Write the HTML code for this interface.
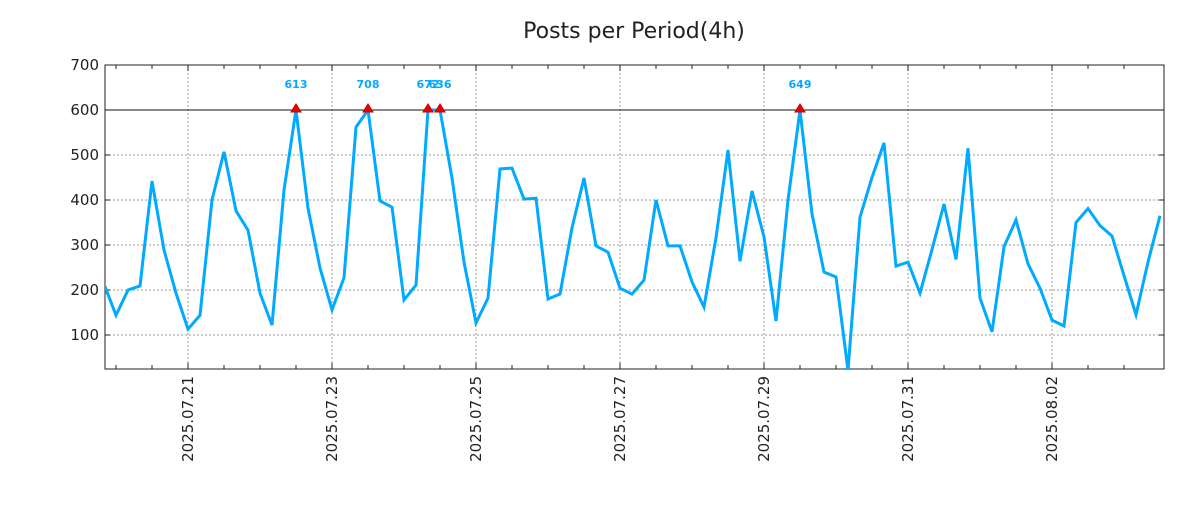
<!DOCTYPE html>
<html><head><meta charset="utf-8"><style>
body{margin:0;background:#fff;}
svg text{font-family:"DejaVu Sans","Liberation Sans",sans-serif;}
</style></head><body>
<svg id="chart" width="1200" height="500" xmlns="http://www.w3.org/2000/svg">
<text x="634" y="38" font-size="22" text-anchor="middle" fill="#222">Posts per Period(4h)</text>
<g id="grid"></g><g id="axes"></g><g id="series"></g>
</svg>
<script>
const values=[213,144,200,209,442,289,193,113,144,400,507,376,333,193,122,422,613,382,249,156,227,562,708,398,384,178,211,672,636,449,262,127,182,469,471,402,404,180,191,338,449,298,284,204,191,222,400,298,298,218,162,316,511,264,420,318,131,400,649,369,240,229,22,362,450,527,253,262,193,290,391,268,515,182,107,296,356,258,204,133,120,350,381,343,320,232,145,262,365];
const startHour=-28; // hours from 2025.07.21 00:00 of first point
const periodHours=4;
const yTicks=[100,200,300,400,500,600,700];
const xTickLabels=["2025.07.21","2025.07.23","2025.07.25","2025.07.27","2025.07.29","2025.07.31","2025.08.02"];
const xTickHours=[0,48,96,144,192,240,288];
const threshold=600;
const L=105,T=65,R=1164,B=369;
const xs=h=>188+h*3;
const ys=v=>380-v*0.45;
const NS="http://www.w3.org/2000/svg";
function mk(tag,attrs,parent){const e=document.createElementNS(NS,tag);for(const k in attrs)e.setAttribute(k,attrs[k]);parent.appendChild(e);return e;}
const grid=document.getElementById('grid'),axes=document.getElementById('axes'),ser=document.getElementById('series');
yTicks.forEach(v=>{
 const y=ys(v);
 if(v!==700){const g=mk('line',{x1:L,x2:R,y1:y,y2:y,stroke:'#999','stroke-dasharray':'2,2','stroke-width':1},grid);
 
 }
 mk('line',{x1:L,x2:L+5,y1:y,y2:y,stroke:'#222'},axes);
 mk('line',{x1:R-5,x2:R,y1:y,y2:y,stroke:'#222'},axes);
 const t=mk('text',{x:L-6,y:y+5,'font-size':15,'text-anchor':'end',fill:'#222'},axes);
 t.textContent=v;
 
 
});
xTickHours.forEach((h,i)=>{
 const x=xs(h);
 const g=mk('line',{x1:x,x2:x,y1:T,y2:B,stroke:'#999','stroke-dasharray':'2,2','stroke-width':1},grid);
 
 
 const t=mk('text',{transform:`translate(${x+5},376) rotate(-90)`,'font-size':15,'text-anchor':'end',fill:'#222'},axes);
 t.textContent=xTickLabels[i];
 
 
});
for(let h=-24;h<=320;h+=12){const x=xs(h);if(x<L||x>R)continue;const big=h%48===0;
 mk('line',{x1:x,x2:x,y1:B,y2:B-(big?6:4),stroke:'#222'},axes);
 mk('line',{x1:x,x2:x,y1:T,y2:T+(big?6:4),stroke:'#222'},axes);}
const frame=mk('rect',{x:L,y:T,width:R-L,height:B-T,fill:'none',stroke:'#222','stroke-width':1},axes);


const thr=mk('line',{x1:L,x2:R,y1:ys(threshold),y2:ys(threshold),stroke:'#111','stroke-width':1},axes);


mk('clipPath',{id:'clip'},ser).appendChild(Object.assign(document.createElementNS(NS,'rect'),{}));
const cr=ser.querySelector('clipPath rect');cr.setAttribute('x',L);cr.setAttribute('y',T);cr.setAttribute('width',R-L);cr.setAttribute('height',B-T);
const pts=values.map((v,k)=>[xs(startHour+k*periodHours),ys(Math.min(v,threshold))]);
const line=mk('polyline',{points:pts.map(p=>p.join(',')).join(' '),fill:'none',stroke:'#00aaff','stroke-width':3,'stroke-linejoin':'miter','clip-path':'url(#clip)'},ser);


values.forEach((v,k)=>{if(v<=threshold)return;const x=pts[k][0],y=ys(threshold);
 const m=mk('polygon',{points:`${x-5},${y+2} ${x+5},${y+2} ${x},${y-6}`,fill:'#e00',stroke:'#c00'},ser);
 
 
 const t=mk('text',{x:x,y:88,'font-size':11,'font-weight':'bold','text-anchor':'middle',fill:'#00aaff'},ser);
 t.textContent=v;
 
 
});
</script>
</body></html>
